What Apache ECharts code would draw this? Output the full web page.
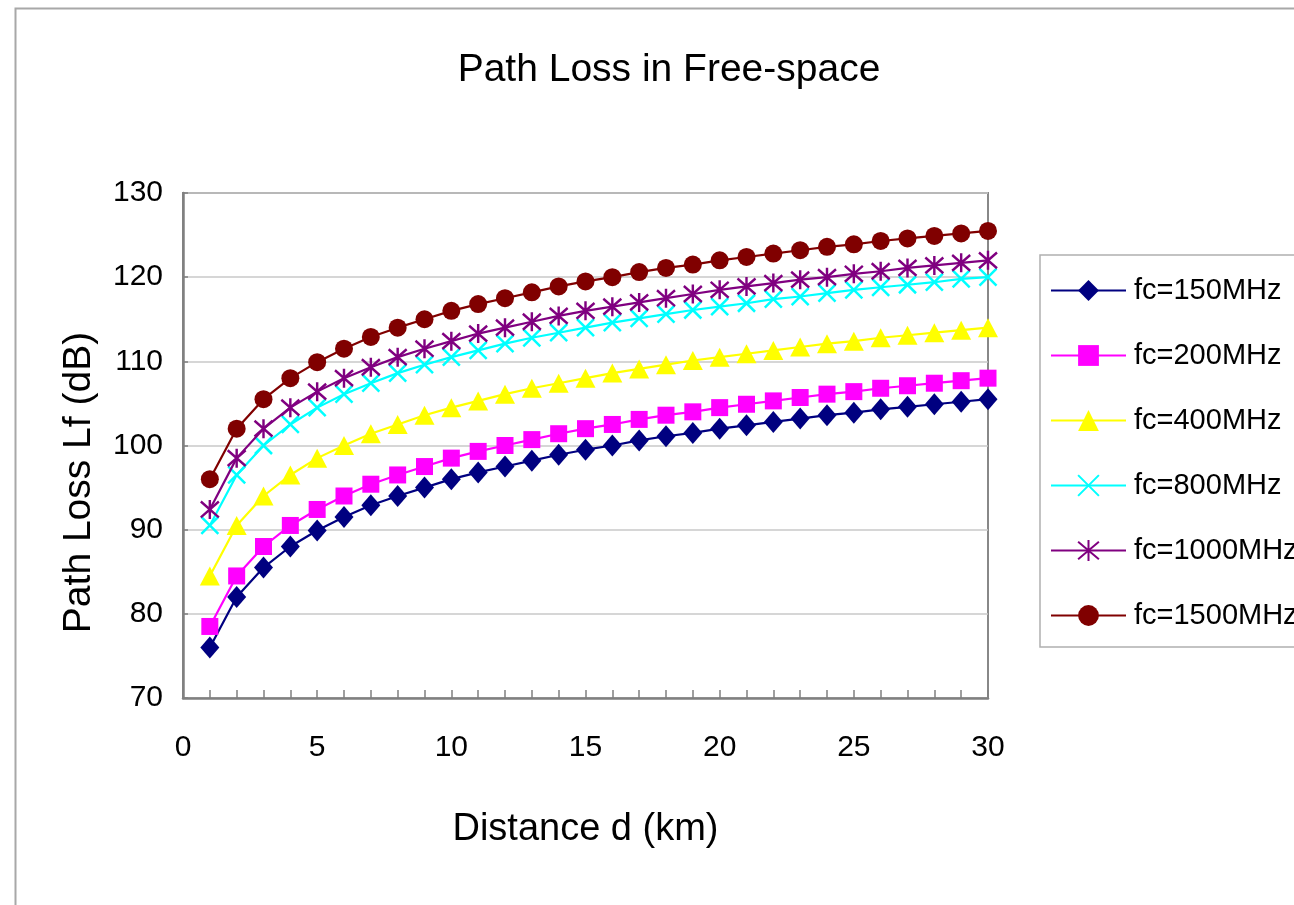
<!DOCTYPE html>
<html>
<head>
<meta charset="utf-8">
<script src="https://cdn.jsdelivr.net/npm/echarts@6/dist/echarts.min.js"></script>
<style>
html,body{margin:0;padding:0;background:#fff;}
#chart{width:1294px;height:905px;}
</style>
</head>
<body>
<div id="chart"></div>
<script>
const distances = [1,2,3,4,5,6,7,8,9,10,11,12,13,14,15,16,17,18,19,20,21,22,23,24,25,26,27,28,29,30];
const seriesNames = ['fc=150MHz','fc=200MHz','fc=400MHz','fc=800MHz','fc=1000MHz','fc=1500MHz'];
const loss150 = [76.0,82.0,85.5,88.0,89.9,91.5,92.9,94.0,95.0,96.0,96.8,97.5,98.2,98.9,99.5,100.0,100.6,101.1,101.5,102.0,102.4,102.8,103.2,103.6,103.9,104.3,104.6,104.9,105.2,105.5];
const loss200 = [78.5,84.5,88.0,90.5,92.4,94.0,95.4,96.5,97.5,98.5,99.3,100.0,100.7,101.4,102.0,102.5,103.1,103.6,104.0,104.5,104.9,105.3,105.7,106.1,106.4,106.8,107.1,107.4,107.7,108.0];
const loss400 = [84.5,90.5,94.0,96.5,98.5,100.0,101.4,102.5,103.6,104.5,105.3,106.1,106.8,107.4,108.0,108.6,109.1,109.6,110.1,110.5,110.9,111.3,111.7,112.1,112.4,112.8,113.1,113.4,113.7,114.0];
const loss800 = [90.5,96.5,100.0,102.5,104.5,106.1,107.4,108.6,109.6,110.5,111.3,112.1,112.8,113.4,114.0,114.6,115.1,115.6,116.1,116.5,116.9,117.4,117.7,118.1,118.5,118.8,119.1,119.4,119.8,120.0];
const loss1000 = [92.4,98.5,102.0,104.5,106.4,108.0,109.3,110.5,111.5,112.4,113.3,114.0,114.7,115.4,116.0,116.5,117.0,117.5,118.0,118.5,118.9,119.3,119.7,120.0,120.4,120.7,121.1,121.4,121.7,122.0];
const loss1500 = [96.0,102.0,105.5,108.0,109.9,111.5,112.9,114.0,115.0,116.0,116.8,117.5,118.2,118.9,119.5,120.0,120.6,121.1,121.5,122.0,122.4,122.8,123.2,123.6,123.9,124.3,124.6,124.9,125.2,125.5];

const FONT = "'Liberation Sans',Arial,sans-serif";

const lossData = [loss150, loss200, loss400, loss800, loss1000, loss1500];
const colors = ['#000080','#ff00ff','#ffff00','#00ffff','#800080','#800000'];
const symbols = [
  'diamond',
  'rect',
  'triangle',
  'path://M0,0L10,10M10,0L0,10',
  'path://M0,0L10,10M10,0L0,10M5,-1L5,11',
  'circle'
];
const symbolSizes = [[19,22],17,[20,19],[17,17],[18,19],18];
const borderWidths = [0,0,0,2.5,2.5,0];

const series = seriesNames.map((name, i) => ({
  name: name,
  type: 'line',
  data: distances.map((d, j) => [d, lossData[i][j]]),
  symbol: symbols[i],
  symbolSize: symbolSizes[i],
  showAllSymbol: true,
  lineStyle: { color: colors[i], width: 2.2 },
  itemStyle: { color: colors[i], borderColor: colors[i], borderWidth: borderWidths[i] },
  emphasis: { disabled: true },
  z: 2 + i
}));

const chart = echarts.init(document.getElementById('chart'), null, { renderer: 'canvas' });
chart.setOption({
  backgroundColor: '#ffffff',
  animation: false,
  title: {
    text: 'Path Loss in Free-space',
    left: 664, top: 46, textAlign: 'center',
    textStyle: { fontFamily: FONT, fontSize: 39, fontWeight: 'normal', color: '#000' }
  },
  graphic: [{
    type: 'rect', left: 13, top: 6,
    shape: { width: 1400, height: 1000 },
    style: { fill: 'none', stroke: '#a8a8a8', lineWidth: 2 },
    silent: true
  }],
  legend: {
    orient: 'vertical',
    left: 1040, top: 255,
    padding: [21, 40, 17, 10],
    itemWidth: 75, itemHeight: 26, itemGap: 36,
    borderColor: '#b0b0b0', borderWidth: 1.5,
    backgroundColor: '#fff',
    textStyle: { fontFamily: FONT, fontSize: 29, color: '#000', padding: [0,0,0,3] },
    data: seriesNames
  },
  grid: {
    left: 183, right: 306, top: 193, bottom: 207,
    show: true, borderColor: '#888', borderWidth: 2, backgroundColor: '#fff'
  },
  xAxis: {
    type: 'value', min: 0, max: 30, interval: 5,
    name: 'Distance d (km)', nameLocation: 'middle', nameGap: 113,
    nameTextStyle: { fontFamily: FONT, fontSize: 38, color: '#000' },
    axisLine: { show: true, lineStyle: { color: '#808080', width: 2.5 } },
    axisTick: { show: true, inside: true, length: 8, lineStyle: { color: '#808080', width: 1.5 } },
    minorTick: { show: true, splitNumber: 5, length: 8, lineStyle: { color: '#808080', width: 1.5 } },
    splitLine: { show: false },
    axisLabel: { fontFamily: FONT, fontSize: 30, color: '#000', margin: 35 }
  },
  yAxis: {
    type: 'value', min: 70, max: 130, interval: 10,
    name: 'Path Loss Lf (dB)', nameLocation: 'middle', nameGap: 84,
    nameRotate: 90,
    nameTextStyle: { fontFamily: FONT, fontSize: 39, color: '#000', padding: [0, 74, 0, 0] },
    axisLine: { show: true, lineStyle: { color: '#808080', width: 2.5 } },
    axisTick: { show: true, inside: true, length: 5, lineStyle: { color: '#808080', width: 1.5 } },
    splitLine: { show: true, lineStyle: { color: '#c8c8c8', width: 1.5 } },
    axisLabel: { fontFamily: FONT, fontSize: 30, color: '#000', margin: 20 }
  },
  series: series
});
</script>
</body>
</html>
